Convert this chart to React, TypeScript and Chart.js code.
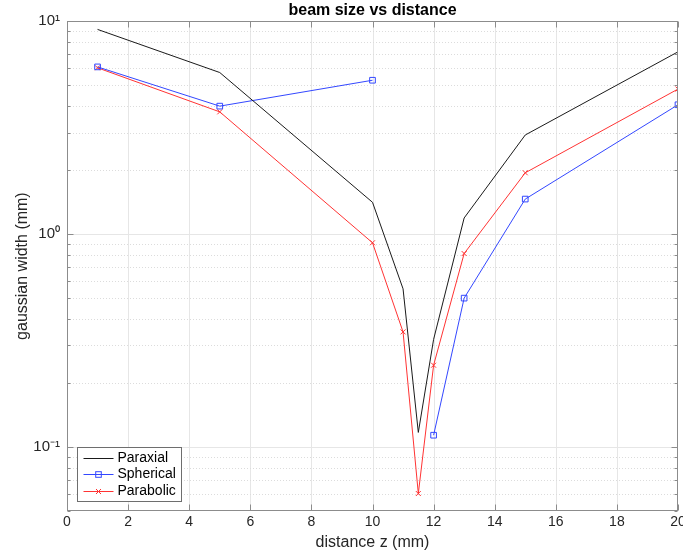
import React, { useEffect, useRef } from 'react';
import { Chart, registerables } from 'chart.js';

Chart.register(...registerables);

const FONT = "'Liberation Sans', Arial, Helvetica, sans-serif";

// ---- data ----
const paraxialX = [1, 5, 10, 11, 11.5, 12, 13, 15, 20];
const paraxialY = [9.15, 5.74, 1.41, 0.553, 0.117, 0.32, 1.19, 2.92, 7.18];

const sphericalX = [1, 5, 10, 11, 12, 13, 15, 20];
const sphericalY: (number | null)[] = [6.1, 3.99, 5.28, null, 0.1135, 0.5, 1.46, 4.05];

const parabolicX = [1, 5, 10, 11, 11.5, 12, 13, 15, 20];
const parabolicY = [6.04, 3.75, 0.91, 0.347, 0.0604, 0.242, 0.81, 1.94, 4.8];

const seriesLabels = ['Paraxial', 'Spherical', 'Parabolic'];
const seriesColors = ['#1a1a1a', '#3347ff', '#ff3333'];
const seriesMarkers = ['', 'rect', 'crossRot'];

const xTickValues = [0, 2, 4, 6, 8, 10, 12, 14, 16, 18, 20];
const yTickValues = [0.1, 1, 10];
const yTickLabels = ['10\u207B\u00B9', '10\u2070', '10\u00B9'];
const yMinorValues = [
  0.05, 0.06, 0.07, 0.08, 0.09,
  0.2, 0.3, 0.4, 0.5, 0.6, 0.7, 0.8, 0.9,
  2, 3, 4, 5, 6, 7, 8, 9,
];

const X_MIN = 0;
const X_MAX = 20;
const Y_MIN = 0.05;
const Y_MAX = 10;

const toPoints = (xs: number[], ys: (number | null)[]) =>
  xs.map((x, i) => ({ x, y: ys[i] }));

function drawMarker(ctx: CanvasRenderingContext2D, style: string, x: number, y: number, color: string) {
  ctx.save();
  ctx.strokeStyle = color;
  ctx.lineWidth = 1;
  ctx.setLineDash([]);
  if (style === 'rect') {
    ctx.strokeRect(x - 2.8, y - 2.8, 5.6, 5.6);
  } else if (style === 'crossRot') {
    ctx.beginPath();
    ctx.moveTo(x - 2.5, y - 2.5);
    ctx.lineTo(x + 2.5, y + 2.5);
    ctx.moveTo(x + 2.5, y - 2.5);
    ctx.lineTo(x - 2.5, y + 2.5);
    ctx.stroke();
  }
  ctx.restore();
}

const axesPlugin = {
  id: 'matlabAxes',
  beforeDatasetsDraw(chart: any) {
    const { ctx, chartArea: ca, scales } = chart;
    const xs = scales.x;
    const ys = scales.y;
    ctx.save();
    ctx.lineWidth = 1;
    ctx.strokeStyle = '#e6e6e6';
    ctx.setLineDash([]);
    xTickValues.forEach((v) => {
      const px = Math.round(xs.getPixelForValue(v)) + 0.5;
      if (px <= ca.left + 1 || px >= ca.right - 1) return;
      ctx.beginPath();
      ctx.moveTo(px, ca.top);
      ctx.lineTo(px, ca.bottom);
      ctx.stroke();
    });
    yTickValues.forEach((v) => {
      const py = Math.round(ys.getPixelForValue(v)) + 0.5;
      if (py <= ca.top + 1 || py >= ca.bottom - 1) return;
      ctx.beginPath();
      ctx.moveTo(ca.left, py);
      ctx.lineTo(ca.right, py);
      ctx.stroke();
    });
    ctx.strokeStyle = '#dcdcdc';
    ctx.setLineDash([1, 2]);
    yMinorValues.forEach((v) => {
      const py = Math.round(ys.getPixelForValue(v)) + 0.5;
      if (py <= ca.top + 1 || py >= ca.bottom - 1) return;
      ctx.beginPath();
      ctx.moveTo(ca.left, py);
      ctx.lineTo(ca.right, py);
      ctx.stroke();
    });
    ctx.restore();
  },
  afterDatasetsDraw(chart: any) {
    const { ctx, chartArea: ca, scales } = chart;
    const xs = scales.x;
    const ys = scales.y;
    const L = Math.round(ca.left) + 0.5;
    const R = Math.round(ca.right) - 0.5;
    const T = Math.round(ca.top) + 0.5;
    const B = Math.round(ca.bottom) - 0.5;
    ctx.save();
    ctx.lineWidth = 1;
    ctx.setLineDash([]);
    ctx.strokeStyle = '#8c8c8c';
    ctx.strokeRect(L, T, R - L, B - T);
    const major = 6;
    const minor = 3;
    ctx.beginPath();
    xTickValues.forEach((v) => {
      const px = Math.round(xs.getPixelForValue(v)) + 0.5;
      ctx.moveTo(px, B);
      ctx.lineTo(px, B - major);
      ctx.moveTo(px, T);
      ctx.lineTo(px, T + major);
    });
    yTickValues.forEach((v) => {
      const py = Math.round(ys.getPixelForValue(v)) + 0.5;
      ctx.moveTo(L, py);
      ctx.lineTo(L + major, py);
      ctx.moveTo(R, py);
      ctx.lineTo(R - major, py);
    });
    yMinorValues.forEach((v) => {
      const py = Math.round(ys.getPixelForValue(v)) + 0.5;
      ctx.moveTo(L, py);
      ctx.lineTo(L + minor, py);
      ctx.moveTo(R, py);
      ctx.lineTo(R - minor, py);
    });
    ctx.stroke();
    ctx.restore();
  },
  afterDraw(chart: any) {
    const { ctx, chartArea: ca } = chart;
    const datasets = chart.data.datasets;
    ctx.save();
    ctx.font = `14px ${FONT}`;
    let maxW = 0;
    datasets.forEach((d: any) => {
      maxW = Math.max(maxW, ctx.measureText(d.label).width);
    });
    const rowH = 16.5;
    const x0 = Math.round(ca.left + 10) + 0.5;
    const textX = x0 + 40;
    const w = Math.round(40 + maxW + 6);
    const h = Math.round(datasets.length * rowH + 4);
    const y1 = Math.round(ca.bottom - 10) + 0.5;
    const y0 = y1 - h;
    ctx.fillStyle = '#ffffff';
    ctx.fillRect(x0, y0, w, h);
    ctx.strokeStyle = '#6e6e6e';
    ctx.lineWidth = 1;
    ctx.strokeRect(x0, y0, w, h);
    datasets.forEach((d: any, i: number) => {
      const color = seriesColors[i];
      const cy = Math.round(y0 + 2 + rowH * i + rowH / 2) + 0.5;
      ctx.strokeStyle = color;
      ctx.lineWidth = 1;
      ctx.beginPath();
      ctx.moveTo(x0 + 6, cy);
      ctx.lineTo(x0 + 36, cy);
      ctx.stroke();
      if (seriesMarkers[i]) {
        drawMarker(ctx, seriesMarkers[i], x0 + 21, cy, color);
      }
      ctx.fillStyle = '#000000';
      ctx.textAlign = 'left';
      ctx.textBaseline = 'middle';
      ctx.fillText(d.label, textX, cy);
    });
    ctx.restore();
  },
};

export default function App() {
  const canvasRef = useRef<HTMLCanvasElement | null>(null);

  useEffect(() => {
    const canvas = canvasRef.current;
    if (!canvas) return;
    const tickColor = '#262626';
    const chart = new Chart(canvas, {
      type: 'line',
      data: {
        datasets: [
          {
            label: seriesLabels[0],
            data: toPoints(paraxialX, paraxialY),
            borderColor: seriesColors[0],
            backgroundColor: seriesColors[0],
            borderWidth: 1,
            pointRadius: 0,
            tension: 0,
          },
          {
            label: seriesLabels[1],
            data: toPoints(sphericalX, sphericalY),
            borderColor: seriesColors[1],
            backgroundColor: 'rgba(0,0,0,0)',
            borderWidth: 1,
            pointRadius: 4,
            pointBorderWidth: 1,
            pointStyle: seriesMarkers[1],
            spanGaps: false,
            tension: 0,
          },
          {
            label: seriesLabels[2],
            data: toPoints(parabolicX, parabolicY),
            borderColor: seriesColors[2],
            backgroundColor: seriesColors[2],
            borderWidth: 1,
            pointRadius: 3.5,
            pointBorderWidth: 1,
            pointStyle: seriesMarkers[2],
            tension: 0,
          },
        ] as any,
      },
      options: {
        animation: false,
        responsive: false,
        maintainAspectRatio: false,
        events: [],
        layout: { padding: { left: 0, right: 3, top: 0, bottom: 0 } },
        plugins: {
          legend: { display: false },
          tooltip: { enabled: false },
          title: {
            display: true,
            text: 'beam size vs distance',
            fullSize: false,
            color: '#000000',
            font: { family: FONT, size: 16, weight: 'bold' },
            padding: { top: 1, bottom: 1 },
          },
        },
        scales: {
          x: {
            type: 'linear',
            min: X_MIN,
            max: X_MAX,
            afterBuildTicks: (s: any) => {
              s.ticks = xTickValues.map((v) => ({ value: v }));
            },
            afterFit: (s: any) => {
              s.height = 43;
              s.paddingLeft = 0;
              s.paddingRight = 0;
            },
            grid: { display: false, drawTicks: false },
            border: { display: false },
            ticks: {
              color: tickColor,
              font: { family: FONT, size: 14 },
              padding: 3,
              maxRotation: 0,
              autoSkip: false,
              callback: (v: any) => String(v),
            },
            title: {
              display: true,
              text: 'distance z (mm)',
              color: tickColor,
              font: { family: FONT, size: 16 },
              padding: { top: 0, bottom: 2 },
            },
          },
          y: {
            type: 'logarithmic',
            min: Y_MIN,
            max: Y_MAX,
            afterBuildTicks: (s: any) => {
              s.ticks = yTickValues.map((v) => ({ value: v }));
            },
            afterFit: (s: any) => {
              s.width = 67;
              s.paddingTop = 0;
              s.paddingBottom = 0;
            },
            grid: { display: false, drawTicks: false },
            border: { display: false },
            ticks: {
              color: tickColor,
              font: { family: FONT, size: 15 },
              padding: 7,
              autoSkip: false,
              callback: (v: any) => {
                const i = yTickValues.findIndex((t) => Math.abs(t - v) < 1e-9);
                return i >= 0 ? yTickLabels[i] : '';
              },
            },
            title: {
              display: true,
              text: 'gaussian width (mm)',
              color: tickColor,
              font: { family: FONT, size: 16 },
              padding: { top: 13, bottom: 0 },
            },
          },
        },
      } as any,
      plugins: [axesPlugin],
    });
    return () => chart.destroy();
  }, []);

  return (
    <div style={{ position: 'fixed', left: 0, top: 0, width: 683, height: 554, background: '#ffffff' }}>
      <canvas ref={canvasRef} width={683} height={554} style={{ display: 'block', width: 683, height: 554 }} />
    </div>
  );
}
